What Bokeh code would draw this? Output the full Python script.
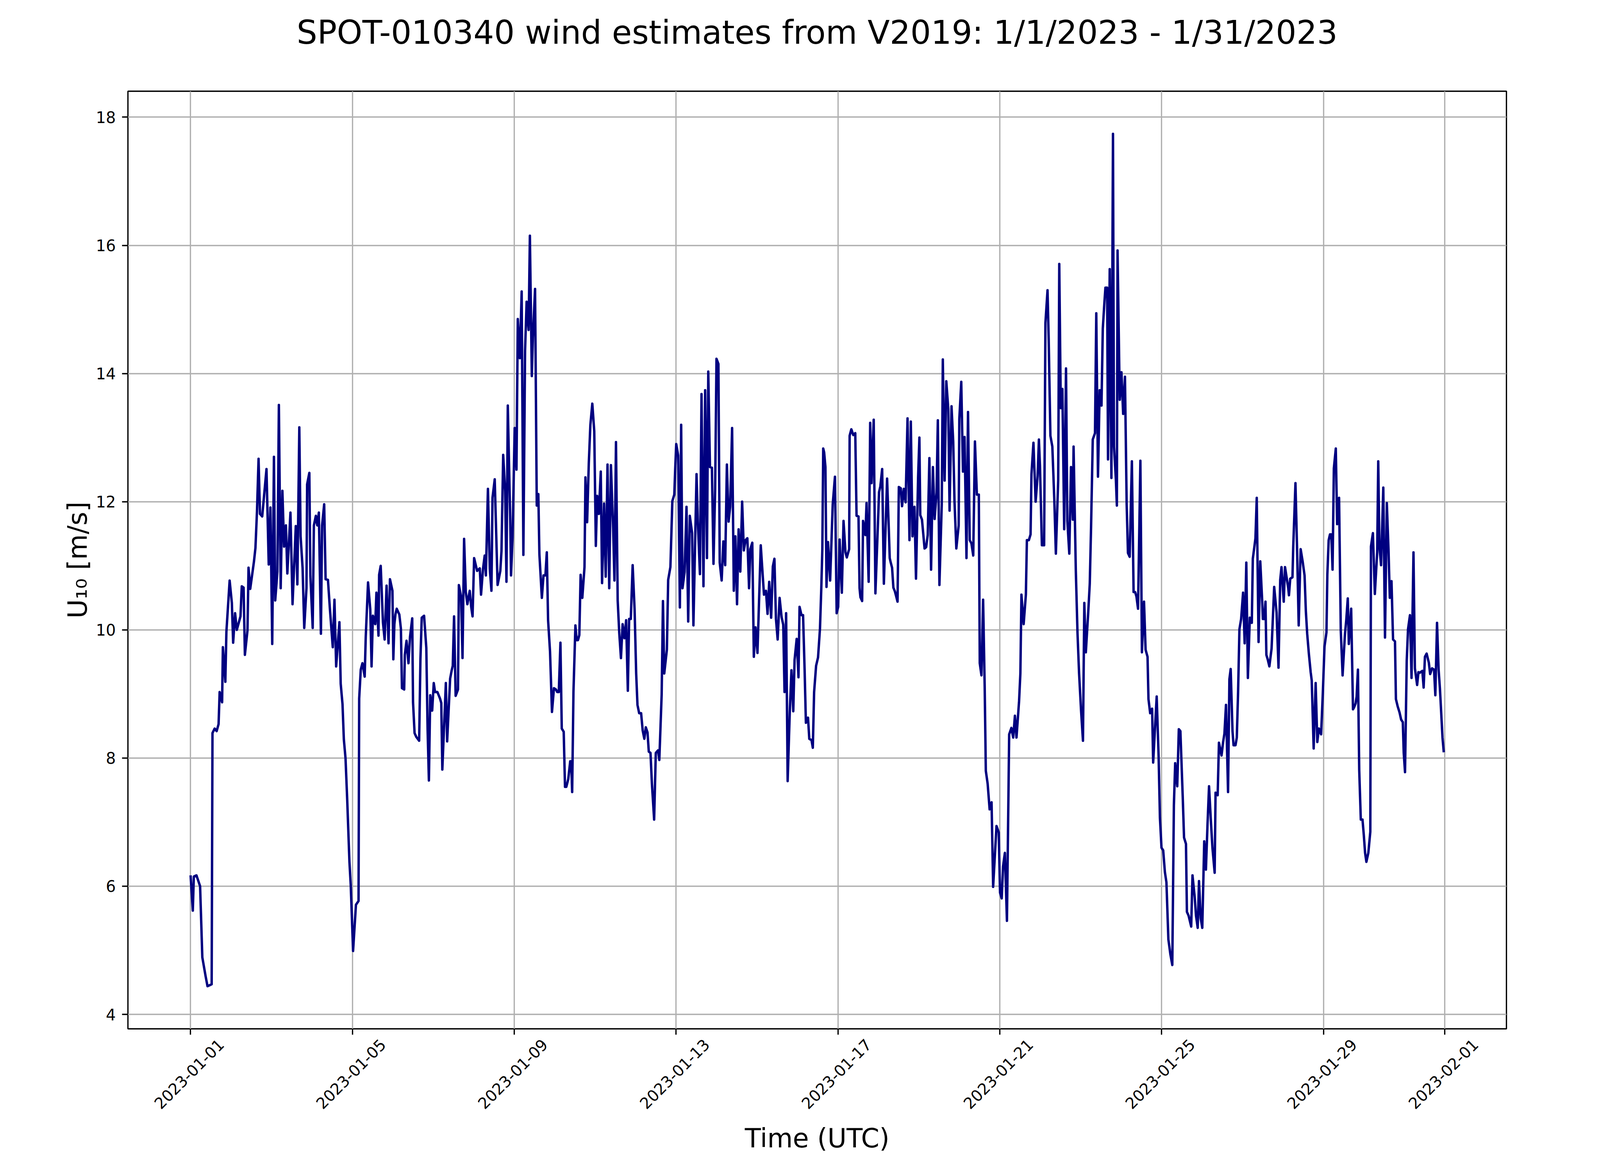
import pandas as pd
from math import pi
from bokeh.plotting import figure
from bokeh.models import (FixedTicker, ColumnDataSource, Range1d, Title, DatetimeAxis,
                          DatetimeTickFormatter, CustomJSTickFormatter)
from bokeh.embed import file_html
from bokeh.resources import INLINE

# time offsets in days since 2023-01-01 00:00 UTC, and wind speed U10 (m/s)
day_offset = [
    0.000, 0.055, 0.080, 0.145, 0.235, 0.290, 0.370, 0.418, 0.521, 0.541, 0.595, 0.644, 0.692, 0.718, 0.779,
    0.798, 0.859, 0.885, 0.965, 1.020, 1.052, 1.100, 1.142, 1.233, 1.265, 1.310, 1.342, 1.406, 1.432, 1.474,
    1.567, 1.603, 1.641, 1.680, 1.715, 1.770, 1.876, 1.931, 1.973, 2.018, 2.060, 2.092, 2.146, 2.182, 2.227,
    2.269, 2.311, 2.356, 2.391, 2.468, 2.520, 2.600, 2.639, 2.687, 2.719, 2.768, 2.809, 2.864, 2.880, 2.935,
    2.961, 3.018, 3.047, 3.096, 3.131, 3.170, 3.221, 3.250, 3.302, 3.337, 3.395, 3.443, 3.514, 3.556, 3.598,
    3.678, 3.710, 3.755, 3.788, 3.829, 3.871, 3.926, 3.958, 4.016,
    4.087, 4.151, 4.167, 4.206, 4.248, 4.303, 4.329, 4.386, 4.441, 4.473, 4.506, 4.564, 4.593, 4.644, 4.660,
    4.699, 4.754, 4.796, 4.844, 4.892, 4.928, 4.989, 5.011, 5.037, 5.063, 5.095, 5.159, 5.198, 5.224, 5.279,
    5.295, 5.337, 5.385, 5.423, 5.478, 5.498, 5.536, 5.578, 5.649, 5.681, 5.713, 5.771, 5.826, 5.858, 5.890,
    5.923, 5.971, 6.010, 6.042, 6.100, 6.164, 6.196, 6.222, 6.309, 6.341, 6.415, 6.454, 6.480, 6.512, 6.551,
    6.609, 6.631, 6.686, 6.721, 6.760, 6.802, 6.841, 6.899, 6.937, 6.969, 7.008, 7.082, 7.147, 7.179, 7.227,
    7.269, 7.298, 7.349, 7.395, 7.436, 7.462, 7.517, 7.588, 7.655, 7.684, 7.726, 7.775, 7.807, 7.840, 7.900,
    7.920, 7.958, 8.010, 8.055, 8.087, 8.138, 8.183, 8.225, 8.267, 8.305, 8.354, 8.386, 8.434, 8.460, 8.514,
    8.556, 8.595, 8.621, 8.682, 8.723, 8.770, 8.804, 8.836, 8.884, 8.932, 8.981, 9.030, 9.061, 9.100, 9.141,
    9.174, 9.222, 9.254, 9.286, 9.334, 9.383, 9.406, 9.431, 9.463, 9.511, 9.543, 9.575, 9.608, 9.640, 9.682,
    9.736, 9.759, 9.801, 9.842, 9.881, 9.929, 9.977, 10.016, 10.048, 10.090, 10.138, 10.170, 10.219, 10.260, 10.305,
    10.347, 10.389, 10.444, 10.476, 10.514, 10.556, 10.595, 10.637, 10.678, 10.723, 10.765, 10.807, 10.839, 10.880, 10.926,
    10.974, 11.013, 11.045, 11.087, 11.135, 11.174, 11.215, 11.251, 11.293, 11.325, 11.367, 11.402, 11.457, 11.498, 11.553,
    11.585, 11.643, 11.675, 11.707, 11.772, 11.804, 11.859, 11.907, 11.955, 11.977, 12.003, 12.051, 12.093, 12.125, 12.158,
    12.209, 12.257, 12.299, 12.338, 12.396, 12.428, 12.505, 12.537, 12.589, 12.628, 12.676, 12.718, 12.763, 12.795, 12.837,
    12.885, 12.924, 12.965, 12.998, 13.046, 13.078, 13.126, 13.168, 13.213, 13.255, 13.297, 13.336, 13.384, 13.426, 13.465,
    13.506, 13.545, 13.587, 13.632, 13.674, 13.716, 13.761, 13.803, 13.835, 13.883, 13.921, 13.963, 14.011, 14.092, 14.172,
    14.221, 14.260, 14.301, 14.349, 14.391, 14.430, 14.468, 14.510, 14.558, 14.607, 14.648, 14.680, 14.719, 14.757, 14.809,
    14.851, 14.896, 14.928, 14.980, 15.025, 15.051, 15.099, 15.138, 15.176, 15.208, 15.260, 15.292, 15.347, 15.379, 15.411,
    15.460, 15.508, 15.556, 15.588, 15.614, 15.636, 15.659, 15.691, 15.717, 15.755, 15.807, 15.871, 15.926, 15.968, 16.006,
    16.042, 16.096, 16.138, 16.186, 16.219, 16.277, 16.289, 16.331, 16.379, 16.428, 16.460, 16.508, 16.534, 16.556, 16.598,
    16.621, 16.678, 16.707, 16.759, 16.797, 16.830, 16.884, 16.926, 16.990, 17.016, 17.048, 17.093, 17.135, 17.215, 17.254,
    17.280, 17.305, 17.338, 17.370, 17.408, 17.441, 17.473, 17.505, 17.553, 17.585, 17.627, 17.672, 17.720, 17.768, 17.801,
    17.842, 17.891, 17.929, 17.981, 18.013, 18.035, 18.077, 18.141, 18.180, 18.219, 18.260, 18.302, 18.347, 18.389, 18.437,
    18.469, 18.508, 18.566, 18.592, 18.637, 18.678, 18.727, 18.759, 18.807, 18.849, 18.881, 18.926, 18.984, 19.000, 19.048,
    19.090, 19.129, 19.177, 19.215, 19.257, 19.299, 19.344, 19.386, 19.434, 19.482, 19.505, 19.547, 19.588, 19.627, 19.655,
    19.700, 19.749, 19.797, 19.836, 19.919, 19.974, 20.006, 20.048, 20.081, 20.126, 20.177, 20.232, 20.287, 20.332, 20.374,
    20.413, 20.477, 20.509, 20.535, 20.590, 20.645, 20.670, 20.719, 20.761, 20.783, 20.832, 20.886, 20.935, 20.967, 20.993,
    21.041, 21.096, 21.128, 21.180, 21.209, 21.251, 21.299, 21.347, 21.386, 21.444, 21.470, 21.508, 21.547, 21.592, 21.637,
    21.670, 21.718, 21.760, 21.805, 21.824, 21.879, 21.921, 21.960, 22.008, 22.056, 22.089, 22.127, 22.185, 22.224, 22.256,
    22.298, 22.353, 22.385, 22.427, 22.469, 22.514, 22.546, 22.588, 22.611, 22.653, 22.675, 22.717, 22.759, 22.798, 22.823,
    22.869, 22.894, 22.911, 22.965, 23.007, 23.049, 23.094, 23.136, 23.168, 23.210, 23.265, 23.307, 23.346, 23.378, 23.417,
    23.475, 23.513, 23.565, 23.604, 23.652, 23.675, 23.717, 23.765, 23.791, 23.878, 23.926, 23.958, 23.997, 24.039, 24.081,
    24.119, 24.167, 24.216, 24.264, 24.303, 24.335, 24.386, 24.425, 24.464, 24.522, 24.554, 24.602, 24.625, 24.667, 24.731,
    24.763, 24.818, 24.850, 24.892, 24.924, 24.966, 25.005, 25.053, 25.095, 25.134, 25.172, 25.214, 25.256, 25.311, 25.333,
    25.385, 25.417, 25.481, 25.520, 25.552, 25.591, 25.642, 25.675, 25.707, 25.752, 25.778, 25.826, 25.858, 25.890, 25.923,
    25.965, 26.013, 26.052, 26.093, 26.132, 26.180, 26.229, 26.254, 26.293, 26.319, 26.351, 26.396, 26.438, 26.486, 26.502,
    26.535, 26.567, 26.589, 26.622, 26.663, 26.718, 26.750, 26.782, 26.841, 26.889, 26.931, 26.963, 27.018, 27.050, 27.130,
    27.147, 27.179, 27.234, 27.253, 27.308, 27.349, 27.388, 27.436, 27.485, 27.533, 27.565, 27.598, 27.639, 27.684, 27.710,
    27.758, 27.807, 27.848, 27.887, 27.942, 27.984, 28.026, 28.074, 28.096, 28.129, 28.161, 28.193, 28.225, 28.257, 28.305,
    28.338, 28.386, 28.428, 28.473, 28.531, 28.563, 28.601, 28.627, 28.685, 28.730, 28.756, 28.794, 28.820, 28.852, 28.884,
    28.923, 28.965, 28.997, 29.029, 29.061, 29.109, 29.158, 29.174, 29.222, 29.270, 29.328, 29.354, 29.383, 29.424, 29.479,
    29.521, 29.566, 29.608, 29.640, 29.682, 29.720, 29.768, 29.791, 29.833, 29.881, 29.920, 29.961, 29.984, 30.016, 30.058,
    30.090, 30.138, 30.177, 30.225, 30.260, 30.315, 30.347, 30.379, 30.444, 30.476, 30.508, 30.550, 30.604, 30.637, 30.685,
    30.733, 30.765, 30.807, 30.846, 30.878, 30.910, 30.942, 30.974,
]

u10 = [
    6.17, 5.62, 6.15, 6.17, 6.00, 4.89, 4.60, 4.44, 4.47, 8.39, 8.46, 8.42, 8.53, 9.03, 8.87,
    9.73, 9.19, 9.97, 10.77, 10.42, 9.80, 10.26, 10.00, 10.21, 10.68, 10.66, 9.61, 9.99, 10.97, 10.64,
    11.07, 11.28, 11.85, 12.67, 11.81, 11.77, 12.51, 11.02, 11.91, 9.78, 12.70, 10.46, 10.91, 13.51, 10.65,
    12.17, 11.30, 11.63, 10.88, 11.83, 10.40, 11.62, 10.71, 13.16, 11.46, 10.97, 10.03, 10.65, 12.27, 12.45,
    10.84, 10.03, 11.63, 11.78, 11.63, 11.83, 9.94, 11.63, 11.96, 10.79, 10.78, 10.33, 9.73, 10.47, 9.43,
    10.12, 9.16, 8.84, 8.29, 8.00, 7.35, 6.38, 6.02, 4.99,
    5.71, 5.77, 8.93, 9.38, 9.48, 9.27, 9.89, 10.74, 10.32, 9.43, 10.22, 10.09, 10.58, 9.91, 10.86,
    11.00, 10.12, 9.85, 10.69, 9.79, 10.79, 10.61, 9.54, 10.09, 10.24, 10.33, 10.24, 10.02, 9.09, 9.07,
    9.61, 9.83, 9.48, 9.89, 10.18, 8.87, 8.39, 8.33, 8.27, 9.55, 10.19, 10.22, 9.72, 8.44, 7.65,
    8.98, 8.74, 9.17, 9.03, 9.03, 8.93, 8.86, 7.82, 9.17, 8.26, 9.24, 9.37, 9.44, 10.21, 8.97,
    9.07, 10.70, 10.52, 9.56, 11.42, 10.59, 10.40, 10.61, 10.35, 10.21, 11.12, 10.92, 10.96, 10.55, 10.95,
    11.16, 10.85, 12.20, 10.95, 10.61, 12.06, 12.35, 10.70, 10.92, 11.23, 12.73, 12.17, 10.75, 13.50, 11.72,
    10.85, 11.44, 13.15, 12.50, 14.85, 14.24, 15.28, 11.17, 14.36, 15.12, 14.68, 16.15, 13.96, 14.56, 15.32,
    11.94, 12.12, 11.18, 10.50, 10.85, 10.85, 11.21, 10.15, 9.66, 8.72, 9.09, 9.07, 9.03, 9.03, 9.80,
    8.46, 8.41, 7.55, 7.55, 7.67, 7.95, 7.95, 7.47, 9.03, 10.07, 9.84, 9.84, 9.92, 10.86, 10.50,
    10.98, 12.38, 11.68, 12.60, 13.20, 13.53, 13.10, 11.31, 12.09, 11.81, 12.47, 10.73, 11.97, 10.83, 12.58,
    10.65, 12.57, 11.58, 10.77, 12.93, 10.46, 9.95, 9.56, 10.09, 9.87, 10.15, 9.05, 10.17, 10.17, 11.01,
    10.32, 9.32, 8.83, 8.70, 8.70, 8.43, 8.30, 8.48, 8.40, 8.10, 8.08, 7.60, 7.04, 8.08, 8.12,
    7.97, 8.99, 10.45, 9.32, 9.69, 10.78, 10.98, 12.01, 12.11, 12.50, 12.90, 12.72, 10.35, 13.20, 10.65,
    10.90, 11.92, 10.13, 11.78, 11.51, 10.07, 12.43, 11.69, 10.87, 13.68, 10.68, 13.74, 11.12, 14.03, 12.54,
    12.53, 11.03, 12.19, 14.23, 14.15, 11.05, 10.77, 11.38, 11.01, 12.58, 11.69, 11.92, 13.15, 10.61, 11.46,
    10.40, 11.57, 10.91, 12.00, 11.24, 11.40, 11.43, 10.65, 11.26, 11.36, 9.58, 10.04, 9.64, 11.32, 10.55,
    10.61, 10.25, 10.75, 10.19, 10.99, 11.11, 10.17, 9.85, 10.50, 10.20, 10.08, 9.03, 10.26, 7.64, 8.71,
    9.37, 8.73, 9.53, 9.86, 9.26, 10.36, 10.23, 10.23, 9.38, 8.55, 8.63, 8.30, 8.28, 8.16, 9.03,
    9.44, 9.57, 10.02, 10.64, 11.25, 12.83, 12.77, 12.54, 10.67, 11.37, 10.77, 11.96, 12.39, 10.26, 10.36,
    11.41, 10.58, 11.70, 11.21, 11.13, 11.26, 13.03, 13.13, 13.04, 13.07, 11.78, 11.77, 10.65, 10.51, 10.45,
    11.70, 11.48, 11.98, 10.75, 13.23, 12.29, 13.28, 10.57, 11.68, 12.15, 12.24, 12.51, 10.72, 12.36, 11.63,
    11.12, 11.05, 10.97, 10.66, 10.60, 10.52, 10.44, 12.23, 12.21, 11.93, 12.20, 11.99, 13.30, 11.40, 13.25,
    11.46, 11.92, 10.80, 12.38, 13.00, 11.79, 11.72, 11.27, 11.29, 11.48, 12.68, 10.94, 12.54, 11.73, 12.14,
    13.27, 10.70, 11.96, 14.22, 12.33, 13.88, 13.45, 11.86, 13.49, 12.94, 12.00, 11.27, 11.63, 13.29, 13.87,
    12.47, 13.01, 11.12, 13.40, 11.40, 11.35, 11.16, 12.94, 12.11, 12.11, 9.48, 9.29, 10.47, 9.11, 7.80,
    7.60, 7.20, 7.31, 5.99, 6.94, 6.84, 5.90, 5.81, 6.31, 6.52, 5.46, 8.37, 8.47, 8.32, 8.66,
    8.32, 8.89, 9.32, 10.55, 10.09, 10.55, 11.40, 11.40, 11.49, 12.43, 12.92, 12.00, 12.40, 12.97, 12.56,
    11.32, 11.32, 14.79, 15.30, 14.53, 13.03, 12.86, 12.04, 11.19, 12.34, 15.71, 13.46, 13.76, 11.57, 14.08,
    11.70, 11.19, 12.54, 11.72, 12.86, 10.93, 9.95, 9.32, 8.75, 8.27, 10.42, 9.65, 10.26, 10.72, 11.60,
    12.97, 13.07, 14.94, 12.39, 13.74, 13.50, 14.70, 15.13, 15.34, 15.34, 12.66, 15.63, 12.37, 17.74, 12.86,
    12.35, 11.94, 15.92, 13.59, 14.02, 13.37, 13.95, 11.96, 11.20, 11.14, 12.63, 10.59, 10.59, 10.52, 10.33,
    12.64, 9.65, 10.44, 9.69, 9.58, 8.92, 8.70, 8.77, 7.93, 8.96, 8.02, 7.07, 6.60, 6.56, 6.22,
    6.06, 5.17, 4.94, 4.77, 7.26, 7.92, 7.56, 8.45, 8.42, 7.39, 6.76, 6.66, 5.60, 5.54, 5.37,
    6.17, 5.83, 5.54, 5.35, 6.08, 5.50, 5.35, 6.70, 6.26, 6.96, 7.56, 7.06, 6.60, 6.21, 7.46,
    7.42, 8.24, 8.04, 8.25, 8.38, 8.83, 7.47, 9.23, 9.39, 8.42, 8.20, 8.20, 8.32, 9.03, 10.01,
    10.17, 10.58, 9.79, 11.05, 9.25, 10.19, 10.11, 11.11, 11.30, 11.43, 12.06, 9.81, 11.07, 10.45, 10.17,
    10.17, 10.44, 9.61, 9.54, 9.43, 9.71, 10.19, 10.67, 10.27, 9.41, 10.78, 10.98, 10.44, 10.98, 10.65,
    10.54, 10.80, 10.82, 11.30, 12.29, 11.23, 10.07, 11.26, 11.07, 10.85, 10.29, 9.94, 9.63, 9.34, 9.21,
    8.15, 9.17, 8.25, 8.46, 8.37, 9.01, 9.74, 9.96, 10.86, 11.40, 11.49, 11.49, 10.94, 12.52, 12.83,
    11.65, 12.06, 9.99, 9.29, 9.93, 10.15, 10.49, 9.78, 10.33, 8.76, 8.79, 8.85, 8.96, 9.38, 7.81,
    7.04, 7.04, 6.80, 6.52, 6.38, 6.52, 6.85, 11.30, 11.51, 10.56, 11.21, 12.63, 11.30, 11.01, 12.22,
    9.88, 11.98, 11.25, 10.50, 10.76, 9.85, 9.82, 8.92, 8.81, 8.71, 8.60, 8.56, 8.08, 7.78, 9.52,
    10.01, 10.23, 9.25, 11.21, 9.40, 9.14, 9.34, 9.33, 9.36, 9.10, 9.58, 9.63, 9.49, 9.31, 9.40,
    9.38, 8.98, 10.11, 9.38, 9.09, 8.71, 8.32, 8.09,
]

tick_dates = ["2023-01-01", "2023-01-05", "2023-01-09", "2023-01-13", "2023-01-17",
              "2023-01-21", "2023-01-25", "2023-01-29", "2023-02-01"]
y_ticks = [4, 6, 8, 10, 12, 14, 16, 18]

title_text = "SPOT-010340 wind estimates from V2019: 1/1/2023 - 1/31/2023"
x_label = "Time (UTC)"
y_label = "U\u2081\u2080 [m/s]"

n = min(len(day_offset), len(u10))
start = pd.Timestamp("2023-01-01")
times = start + pd.to_timedelta(day_offset[:n], unit="D")
source = ColumnDataSource(dict(time=times, u10=u10[:n]))


def ms(ts):
    return ts.value / 1e6


span = day_offset[n - 1] - day_offset[0]
x_lo = ms(start + pd.Timedelta(days=day_offset[0] - 0.05 * span))
x_hi = ms(start + pd.Timedelta(days=day_offset[n - 1] + 0.05 * span))
vmin, vmax = min(u10[:n]), max(u10[:n])
vspan = vmax - vmin

FONT = "DejaVu Sans"
FRAME_W = 3529
LABEL_SHIFT_PX = 78   # matplotlib centres rotated tick labels under the tick

p = figure(width=4184, height=2984, x_axis_type="datetime",
           output_backend="svg", toolbar_location=None,
           x_range=Range1d(x_lo, x_hi),
           y_range=Range1d(vmin - 0.05 * vspan, vmax + 0.05 * vspan),
           min_border_left=327, min_border_right=328,
           min_border_top=233, min_border_bottom=351)

p.background_fill_color = "white"
p.border_fill_color = "white"
p.outline_line_color = "black"
p.outline_line_width = 3.3

# title: a blank spacer panel next to the frame, then the title above it
p.add_layout(Title(text="\u00a0", text_font_size="1px", standoff=99), "above")
p.add_layout(Title(text=title_text, align="center", text_font=FONT, text_font_size="83px",
                   text_font_style="normal", text_color="black", standoff=0), "above")

p.line("time", "u10", source=source, line_color="#000080", line_width=6.2, line_join="round")

tick_ms = [ms(pd.Timestamp(d)) for d in tick_dates]
fmt = "%Y-%m-%d"

# main x axis: ticks only
main_x = p.xaxis[0]
main_x.ticker = FixedTicker(ticks=tick_ms)
main_x.formatter = CustomJSTickFormatter(code="return ''")
main_x.major_label_text_font_size = "0px"
main_x.major_label_standoff = 0

# label axis: same dates on a range shifted so rotated labels sit centred under ticks
d = LABEL_SHIFT_PX * (x_hi - x_lo) / FRAME_W
p.extra_x_ranges = {"labels": Range1d(x_lo - d, x_hi - d)}
label_x = DatetimeAxis(x_range_name="labels", ticker=FixedTicker(ticks=tick_ms),
                       formatter=DatetimeTickFormatter(hours=fmt, days=fmt, months=fmt, years=fmt))
p.add_layout(label_x, "below")

p.yaxis.ticker = FixedTicker(ticks=y_ticks)

for ax in (main_x, label_x, p.yaxis[0]):
    ax.axis_line_color = None
    ax.major_tick_in = 0
    ax.major_tick_out = 15
    ax.major_tick_line_width = 3.3
    ax.major_tick_line_color = "black"
    ax.minor_tick_line_color = None
    ax.axis_label_text_font = FONT
    ax.axis_label_text_font_size = "67px"
    ax.axis_label_text_font_style = "normal"
    ax.axis_label_text_color = "black"

for ax in (label_x, p.yaxis[0]):
    ax.major_label_text_font = FONT
    ax.major_label_text_font_size = "40px"
    ax.major_label_text_color = "black"
    ax.major_label_standoff = 16

label_x.major_tick_out = 0
label_x.major_tick_line_color = None
label_x.major_label_orientation = pi / 4
label_x.major_label_standoff = 18

label_x.axis_label = x_label
label_x.axis_label_standoff = 20
p.yaxis.axis_label = y_label
p.yaxis.axis_label_standoff = 5

for g in (p.xgrid, p.ygrid):
    g.grid_line_color = "#b0b0b0"
    g.grid_line_width = 3.3
p.xgrid.ticker = main_x.ticker
p.ygrid.ticker = p.yaxis.ticker

open("out.html", "w").write(file_html(p, INLINE))
